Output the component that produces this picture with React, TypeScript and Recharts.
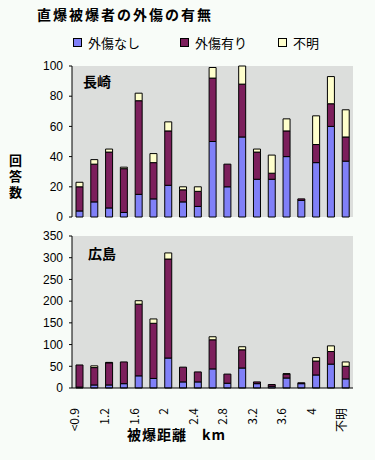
import React from "react";
import { BarChart, Bar, XAxis, YAxis, CartesianGrid } from "recharts";

// distance bands (km); every other one is labelled on the axis
const categories = [
  "<0.9", "1", "1.2", "1.4", "1.6", "1.8", "2", "2.2", "2.4", "2.6",
  "2.8", "3", "3.2", "3.4", "3.6", "3.8", "4", "4.2", "不明",
];

const nagasakiNone = [4, 10, 6, 3, 15, 12, 21, 10, 7, 50, 20, 53, 25, 25, 40, 11, 36, 60, 37];
const nagasakiInjured = [16, 25, 37, 29, 62, 24, 36, 8, 10, 42, 15, 35, 18, 4, 17, 1, 12, 15, 16];
const nagasakiUnknown = [3, 3, 2, 1, 5, 6, 6, 2, 3, 7, 0, 12, 2, 12, 8, 0, 19, 18, 18];

const hiroshimaNone = [2, 7, 7, 10, 28, 22, 69, 14, 14, 44, 11, 46, 10, 4, 23, 10, 30, 55, 21];
const hiroshimaInjured = [51, 40, 51, 50, 165, 127, 228, 34, 23, 67, 21, 42, 4, 4, 9, 2, 32, 29, 29];
const hiroshimaUnknown = [0, 4, 1, 0, 8, 10, 14, 0, 0, 7, 0, 7, 0, 0, 1, 0, 8, 13, 10];

const nagasakiTicks = [0, 20, 40, 60, 80, 100];
const hiroshimaTicks = [0, 50, 100, 150, 200, 250, 300, 350];

const BLUE = "#8080F8";
const PLUM = "#7C1F5C";
const CREAM = "#FFFFCC";
const PLOT_BG = "#DCDEDC";
const PAGE_BG = "#F8FCF8";
const JP = "'Noto Sans CJK JP', 'Liberation Sans', sans-serif";
const NUM = "'Liberation Sans', Arial, sans-serif";

const nagasakiData = categories.map((c, i) => ({
  dist: c,
  none: nagasakiNone[i],
  injured: nagasakiInjured[i],
  unknown: nagasakiUnknown[i],
}));

const hiroshimaData = categories.map((c, i) => ({
  dist: c,
  none: hiroshimaNone[i],
  injured: hiroshimaInjured[i],
  unknown: hiroshimaUnknown[i],
}));

function RotatedTick(props: any) {
  const { x, y, payload } = props;
  return (
    <text
      x={0}
      y={0}
      transform={`translate(${x},${y + 12}) rotate(-90)`}
      textAnchor="end"
      fontSize={12}
      fontFamily={JP}
      fill="#000"
    >
      {payload.value}
    </text>
  );
}

function Panel({
  data,
  ticks,
  max,
  height,
  marginTop,
  marginBottom,
  showLabels,
}: {
  data: any[];
  ticks: number[];
  max: number;
  height: number;
  marginTop: number;
  marginBottom: number;
  showLabels: boolean;
}) {
  return (
    <BarChart
      width={375}
      height={height}
      data={data}
      margin={{ top: marginTop, right: 22, left: 0, bottom: marginBottom }}
      barSize={7}
    >
      <CartesianGrid fill={PLOT_BG} stroke="none" horizontal={false} vertical={false} />
      <XAxis
        dataKey="dist"
        interval={1}
        height={showLabels ? 40 : 0}
        tick={showLabels ? <RotatedTick /> : false}
        tickLine={false}
        axisLine={{ stroke: "#000" }}
      />
      <XAxis xAxisId="top" dataKey="dist" orientation="top" height={0} tick={false} tickLine={false} axisLine={{ stroke: "#808080" }} />
      <YAxis
        domain={[0, max]}
        ticks={ticks}
        interval={0}
        width={72}
        tickSize={3}
        tickMargin={6}
        tickLine={{ stroke: "#000" }}
        axisLine={{ stroke: "#000" }}
        tick={{ fontSize: 12, fill: "#000", fontFamily: NUM }}
      />
      <YAxis yAxisId="right" orientation="right" width={0} tick={false} tickLine={false} axisLine={{ stroke: "#808080" }} />
      <Bar dataKey="none" stackId="a" fill={BLUE} stroke="#000" strokeWidth={1} isAnimationActive={false} />
      <Bar dataKey="injured" stackId="a" fill={PLUM} stroke="#000" strokeWidth={1} isAnimationActive={false} />
      <Bar dataKey="unknown" stackId="a" fill={CREAM} stroke="#000" strokeWidth={1} isAnimationActive={false} />
    </BarChart>
  );
}

const abs = (left: number, top: number): React.CSSProperties => ({
  position: "absolute",
  left,
  top,
  whiteSpace: "nowrap",
});

export default function App() {
  return (
    <div
      style={{
        position: "absolute",
        left: 0,
        top: 0,
        width: 375,
        height: 460,
        background: PAGE_BG,
        fontFamily: JP,
        color: "#000",
      }}
    >
      <div style={{ ...abs(37, 4), fontSize: 14, fontWeight: 700, letterSpacing: 2 }}>
        直爆被爆者の外傷の有無
      </div>

      {/* legend */}
      {[
        { label: "外傷なし", color: BLUE, x: 73 },
        { label: "外傷有り", color: PLUM, x: 180 },
        { label: "不明", color: CREAM, x: 278 },
      ].map((l) => (
        <div key={l.label} style={{ ...abs(l.x, 33), display: "flex", alignItems: "center", fontSize: 13 }}>
          <span style={{ width: 7, height: 7, background: l.color, border: "1px solid #000", marginRight: 6 }} />
          {l.label}
        </div>
      ))}

      <div style={{ ...abs(9, 154), fontSize: 13, fontWeight: 700, writingMode: "vertical-rl", lineHeight: 1, letterSpacing: 3 }}>
        回答数
      </div>

      <div style={{ position: "absolute", left: 0, top: 0 }}>
        <Panel data={nagasakiData} ticks={nagasakiTicks} max={100} height={230} marginTop={66} marginBottom={13} showLabels={false} />
      </div>
      <div style={{ position: "absolute", left: 0, top: 220 }}>
        <Panel data={hiroshimaData} ticks={hiroshimaTicks} max={350} height={240} marginTop={16} marginBottom={32} showLabels={true} />
      </div>

      <div style={{ ...abs(83, 71), fontSize: 14, fontWeight: 700 }}>長崎</div>
      <div style={{ ...abs(88, 243), fontSize: 14, fontWeight: 700 }}>広島</div>

      <div style={{ ...abs(127, 424), fontSize: 14, fontWeight: 700, letterSpacing: 1 }}>
        被爆距離　km
      </div>
    </div>
  );
}
